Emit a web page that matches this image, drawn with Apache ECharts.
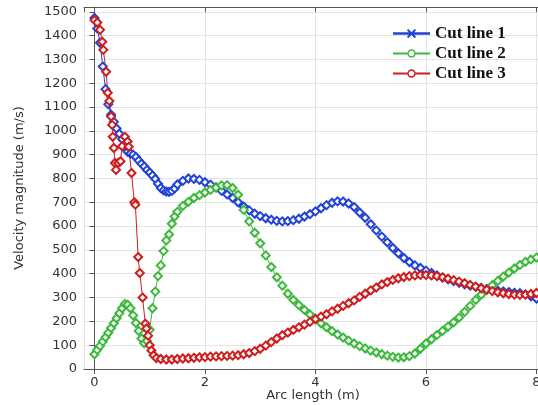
<!DOCTYPE html>
<html>
<head>
<meta charset="utf-8">
<script src="https://cdn.jsdelivr.net/npm/echarts@6/dist/echarts.min.js"></script>
<style>html,body{margin:0;padding:0;background:#fff}#c{width:538px;height:405px}</style>
</head>
<body>
<div id="c"></div>
<script>
// Cut line 1 (blue)
var x1 = [0,0.05,0.1,0.15,0.2,0.25,0.3,0.35,0.4,0.45,0.5,0.55,0.6,0.65,0.7,0.75,0.8,0.85,0.9,0.95,1.0,1.05,1.1,1.15,1.2,1.25,1.3,1.35,1.4,1.45,1.5,
  1.6,1.7,1.8,1.9,2.0,2.1,2.2,2.3,2.4,2.5,2.6,2.7,2.8,2.9,3.0,3.1,3.2,3.3,3.4,3.5,3.6,3.7,3.8,3.9,4.0,4.1,4.2,4.3,4.4,4.5,4.6,4.7,4.8,4.9,5.0,
  5.1,5.2,5.3,5.4,5.5,5.6,5.7,5.8,5.9,6.0,6.1,6.2,6.3,6.4,6.5,6.6,6.7,6.8,6.9,7.0,7.1,7.2,7.3,7.4,7.5,7.6,7.7,7.8,7.9,8.0];
var y1 = [1474,1430,1370,1270,1175,1112,1068,1038,1010,988,965,935,912,905,900,890,875,862,850,836,825,812,798,778,760,750,745,744,748,758,775,
  790,800,798,794,784,774,763,748,733,718,700,682,666,652,642,633,627,622,620,621,625,631,640,650,662,675,688,698,704,703,695,680,657,635,608,
  582,556,532,508,486,466,449,435,424,413,403,393,384,376,369,362,356,350,345,340,336,332,329,326,323,320,318,313,305,296];

// Cut line 2 (green)
var x2 = [0,0.05,0.1,0.15,0.2,0.25,0.3,0.35,0.4,0.45,0.5,0.55,0.6,0.65,0.7,0.75,0.8,0.85,0.9,0.95,1.0,1.05,1.1,1.15,1.2,1.25,1.3,1.35,1.4,1.45,1.5,
  1.6,1.7,1.8,1.9,2.0,2.1,2.2,2.3,2.4,2.5,2.6,2.7,2.8,2.9,3.0,3.1,3.2,3.3,3.4,3.5,3.6,3.7,3.8,3.9,4.0,4.1,4.2,4.3,4.4,4.5,4.6,4.7,4.8,4.9,5.0,
  5.1,5.2,5.3,5.4,5.5,5.6,5.7,5.8,5.9,6.0,6.1,6.2,6.3,6.4,6.5,6.6,6.7,6.8,6.9,7.0,7.1,7.2,7.3,7.4,7.5,7.6,7.7,7.8,7.9,8.0];
var y2 = [62,80,97,115,133,152,172,192,213,234,255,273,270,255,225,193,160,128,108,118,165,255,325,390,435,495,540,565,610,640,660,
  685,702,718,730,741,752,762,771,772,760,732,668,620,572,528,477,428,385,350,316,290,268,248,229,210,192,175,159,145,132,119,107,96,86,77,
  69,62,56,51,48,49,54,65,85,107,125,143,160,178,196,216,240,265,290,312,332,352,370,388,405,422,437,450,460,468];

// Cut line 3 (red)
var x3 = [0,0.05,0.1,0.14,0.16,0.21,0.24,0.27,0.3,0.32,0.33,0.35,0.37,0.39,0.43,0.47,0.5,0.55,0.6,0.62,0.67,0.72,0.74,0.79,0.82,0.87,0.92,0.94,0.97,1.0,1.03,1.07,1.12,
  1.2,1.3,1.4,1.5,1.6,1.7,1.8,1.9,2.0,2.1,2.2,2.3,2.4,2.5,2.6,2.7,2.8,2.9,3.0,3.1,3.2,3.3,3.4,3.5,3.6,3.7,3.8,3.9,4.0,4.1,4.2,4.3,4.4,4.5,4.6,4.7,4.8,4.9,5.0,
  5.1,5.2,5.3,5.4,5.5,5.6,5.7,5.8,5.9,6.0,6.1,6.2,6.3,6.4,6.5,6.6,6.7,6.8,6.9,7.0,7.1,7.2,7.3,7.4,7.5,7.6,7.7,7.8,7.9,8.0];
var y3 = [1465,1455,1424,1374,1340,1248,1160,1125,1060,1025,975,928,865,836,865,872,935,975,955,933,823,700,690,470,403,300,190,170,140,100,78,58,46,
  42,40,40,42,44,45,47,49,50,52,53,54,55,56,58,62,67,75,85,98,113,128,142,153,164,175,186,198,210,220,230,242,253,265,276,288,303,316,330,
  342,355,365,374,381,386,390,393,395,395,393,390,385,379,373,367,360,353,346,339,333,327,322,318,315,312,311,312,315,319];

var names = ['Cut line 1','Cut line 2','Cut line 3'];
var colors = ['#2342d8','#3dba3d','#cf1d1d'];
var xTicks = [0,2,4,6,8];

function pairs(xs, ys){ return xs.map(function(x,i){ return [x, ys[i]]; }); }

var iconX = 'path://M0,4.7H40V7.3H0Z M15,2.5L16.5,1L25,9.5L23.5,11Z M23.5,1L25,2.5L16.5,11L15,9.5Z';
var iconO = 'path://M0,4.8H15.6V7.2H0Z M24.4,4.8H40V7.2H24.4Z M24.6,6A4.6,4.6,0,1,0,15.4,6A4.6,4.6,0,1,0,24.6,6Z M22.9,6A2.9,2.9,0,1,1,17.1,6A2.9,2.9,0,1,1,22.9,6Z';
var icons = [iconX, iconO, iconO];

var chart = echarts.init(document.getElementById('c'), null, {renderer:'canvas'});
var xMin = -0.19, xMax = 8.1;
var axisLineStyle = {color:'#555', width:1};
chart.setOption({
  backgroundColor:'#fff',
  animation:false,
  textStyle:{fontFamily:'DejaVu Sans'},
  grid:{left:84, top:7, height:362, width:458, containLabel:false, outerBoundsMode:'none'},
  legend:{
    orient:'vertical', left:388, top:20, itemWidth:37, itemHeight:12, itemGap:3,
    itemStyle:{borderWidth:0},
    textStyle:{fontFamily:'Liberation Serif', fontWeight:'bold', fontSize:17, color:'#111'},
    data: names.map(function(n,i){ return {name:n, icon:icons[i], itemStyle:{color:colors[i], borderWidth:0, opacity:1}}; })
  },
  xAxis:[{
    type:'value', min:xMin, max:xMax,
    name:'Arc length (m)', nameLocation:'middle', nameGap:20, nameMoveOverlap:false,
    nameTextStyle:{fontSize:13, color:'#333', fontFamily:'DejaVu Sans', verticalAlign:'top'},
    axisLine:{show:true, onZero:false, lineStyle:axisLineStyle},
    axisTick:{show:true, inside:false, length:5, lineStyle:{color:'#555'}},
    axisLabel:{fontSize:13, color:'#333', margin:7, showMinLabel:false, showMaxLabel:false,
      formatter:function(v){ return xTicks.indexOf(Math.round(v*1000)/1000) >= 0 ? String(v) : ''; }},
    splitLine:{show:true, lineStyle:{color:'#e4e4e4', width:1}}
  },{
    type:'value', min:xMin, max:xMax, position:'top',
    axisLine:{show:true, onZero:false, lineStyle:axisLineStyle},
    axisTick:{show:true, inside:true, length:5, lineStyle:{color:'#555'}},
    axisLabel:{show:false}, splitLine:{show:false}
  }],
  yAxis:{
    type:'value', min:0, max:1520, interval:100,
    name:'Velocity magnitude (m/s)', nameLocation:'middle', nameGap:58,
    nameTextStyle:{fontSize:13, color:'#333', fontFamily:'DejaVu Sans'},
    axisLine:{show:true, lineStyle:axisLineStyle},
    axisTick:{show:true, inside:false, length:5, lineStyle:{color:'#555'}},
    axisLabel:{fontSize:13, color:'#333', margin:7, showMaxLabel:false,
      formatter:function(v){ return (v % 100 === 0) ? String(v) : ''; }},
    splitLine:{show:true, lineStyle:{color:'#e4e4e4', width:1}}
  },
  series:[pairs(x1,y1), pairs(x2,y2), pairs(x3,y3)].map(function(d,i){
    return {
      name:names[i], type:'line', xAxisIndex:0, data:d,
      symbol:'emptyDiamond', symbolSize:8, showAllSymbol:true,
      lineStyle:{color:colors[i], width:1},
      itemStyle:{color:colors[i], borderColor:colors[i], borderWidth:1.8},
      emphasis:{disabled:true}
    };
  })
});
</script>
</body>
</html>
